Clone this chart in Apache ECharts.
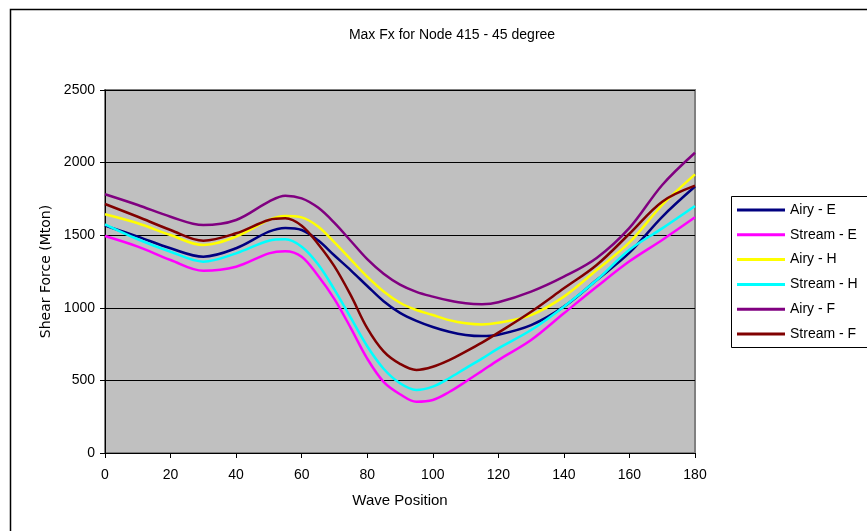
<!DOCTYPE html>
<html>
<head>
<meta charset="utf-8">
<script src="https://cdn.jsdelivr.net/npm/echarts@6/dist/echarts.min.js"></script>
<style>
html,body{margin:0;padding:0;background:#fff;}
#chart{width:867px;height:531px;}
</style>
</head>
<body>
<div id="chart"></div>
<script>
var wavePositions = [0,10,20,30,40,50,55,60,65,70,75,80,85,90,95,100,105,110,115,120,130,140,150,160,170,180];
var airyE   = [1566,1490,1410,1352,1410,1524,1550,1536,1465,1360,1258,1150,1045,965,910,868,835,813,805,815,881,1008,1191,1380,1627,1835];
var streamE = [1494,1421,1329,1255,1283,1375,1390,1352,1220,1060,860,650,490,405,353,365,420,491,565,640,778,962,1145,1320,1467,1623];
var airyH   = [1644,1582,1501,1432,1490,1605,1632,1623,1560,1450,1332,1214,1112,1035,985,950,915,893,885,897,950,1077,1260,1450,1708,1919];
var streamH = [1575,1472,1386,1318,1375,1462,1472,1421,1300,1125,930,735,580,480,434,457,515,583,650,721,847,1008,1191,1400,1547,1701];
var airyF   = [1782,1708,1627,1570,1605,1731,1772,1754,1690,1585,1460,1335,1235,1160,1110,1077,1050,1031,1025,1038,1111,1214,1343,1550,1846,2068];
var streamF = [1715,1627,1536,1462,1513,1605,1616,1565,1440,1285,1085,860,700,614,572,594,640,698,760,829,973,1134,1295,1510,1731,1841];
var seriesNames = ['Airy - E','Stream - E','Airy - H','Stream - H','Airy - F','Stream - F'];
var seriesValues = [airyE, streamE, airyH, streamH, airyF, streamF];
var seriesColors = ['#000080','#FF00FF','#FFFF00','#00FFFF','#800080','#800000'];

function pairs(vals){ return wavePositions.map(function(x,i){ return [x, vals[i]]; }); }

var chart = echarts.init(document.getElementById('chart'));
var option = {
  animation: false,
  backgroundColor: '#ffffff',
  title: {
    text: 'Max Fx for Node 415 - 45 degree',
    left: 447, top: 23, textAlign: 'center',
    textStyle: { fontFamily: 'Liberation Sans', fontSize: 14, fontWeight: 'normal', color: '#000' }
  },
  graphic: [
    { type: 'rect', shape: { x: 10.5, y: 9.5, width: 900, height: 600 }, style: { fill: 'none', stroke: '#000', lineWidth: 1.5 }, silent: true, z: -1 },
    { type: 'rect', shape: { x: 731.5, y: 196.5, width: 200, height: 151 }, style: { fill: '#fff', stroke: '#000', lineWidth: 1 }, silent: true, z: 0 }
  ],
  legend: {
    orient: 'vertical', left: 732, top: 198,
    icon: 'rect', itemWidth: 48, itemHeight: 3, itemGap: 10.8,
    data: seriesNames,
    textStyle: { fontFamily: 'Liberation Sans', fontSize: 14, color: '#000', lineHeight: 14 },
    z: 5
  },
  grid: {
    left: 105, top: 90, right: 172, bottom: 78,
    show: true, backgroundColor: '#C0C0C0', borderColor: '#808080', borderWidth: 2
  },
  xAxis: {
    type: 'value', min: 0, max: 180, interval: 20,
    name: 'Wave Position', nameLocation: 'middle', nameGap: 40,
    nameTextStyle: { fontFamily: 'Liberation Sans', fontSize: 15, color: '#000' },
    axisLine: { show: true, onZero: false, lineStyle: { color: '#000', width: 1 } },
    axisTick: { show: true, inside: false, length: 5, lineStyle: { color: '#000' } },
    axisLabel: { margin: 15, fontFamily: 'Liberation Sans', fontSize: 14, color: '#000' },
    splitLine: { show: false }
  },
  yAxis: {
    type: 'value', min: 0, max: 2500, interval: 500,
    name: 'Shear Force (Mton)', nameLocation: 'middle', nameGap: 33,
    nameTextStyle: { fontFamily: 'DejaVu Sans', fontSize: 14, color: '#000' },
    axisLine: { show: true, onZero: false, lineStyle: { color: '#000', width: 1 } },
    axisTick: { show: true, inside: false, length: 5, lineStyle: { color: '#000' } },
    axisLabel: { margin: 10, fontFamily: 'Liberation Sans', fontSize: 14, color: '#000',
      formatter: function(v){ return String(v); } },
    splitLine: { show: true, lineStyle: { color: '#000', width: 1 } }
  },
  series: seriesNames.map(function(n, i){
    return {
      name: n, type: 'line', data: pairs(seriesValues[i]),
      smooth: 0.35, symbol: 'none', showSymbol: false,
      lineStyle: { color: seriesColors[i], width: 2.5 },
      itemStyle: { color: seriesColors[i] },
      z: 3
    };
  })
};
chart.setOption(option);
</script>
</body>
</html>
